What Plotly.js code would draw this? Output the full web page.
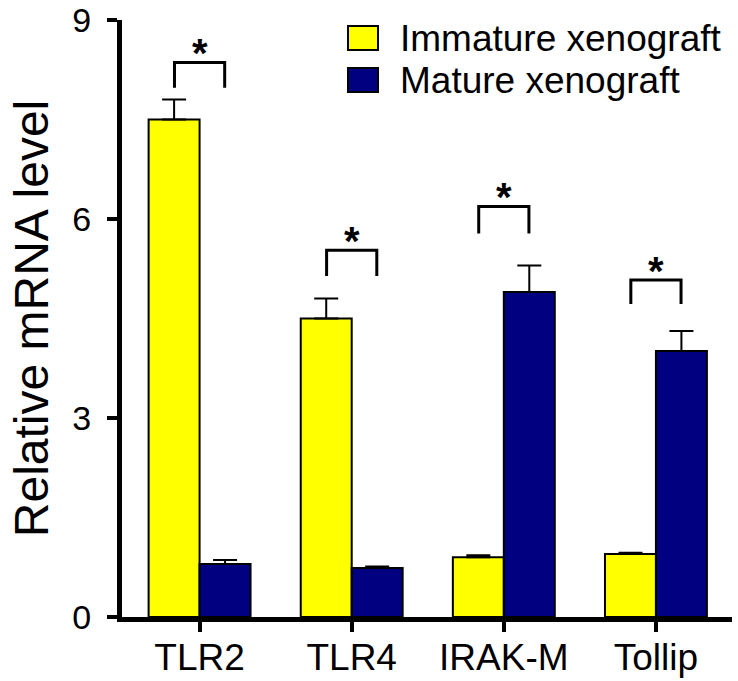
<!DOCTYPE html>
<html>
<head>
<meta charset="utf-8">
<script src="https://cdn.plot.ly/plotly-3.0.1.min.js"></script>
<style>html,body{margin:0;padding:0;background:#fff;}#chart{width:738px;height:681px;}</style>
</head>
<body>
<div id="chart"></div>
<script>
// ---- data ----
const categories = ["TLR2", "TLR4", "IRAK-M", "Tollip"];
const immature = [7.5, 4.5, 0.9, 0.95];
const immatureErr = [0.3, 0.3, 0.03, 0.02];
const mature = [0.8, 0.74, 4.9, 4.01];
const matureErr = [0.06, 0.02, 0.4, 0.3];
const seriesNames = ["Immature xenograft", "Mature xenograft"];
const bracketBottom = [7.98, 5.14, 5.78, 4.72];
const bracketTop = [8.36, 5.53, 6.19, 5.08];
const sigLabel = ["*", "*", "*", "*"];
const yTicks = [0, 3, 6, 9];

const xIdx = categories.map((c, i) => i);
const zeros = categories.map(() => 0);
const FONT = "Arial, 'Liberation Sans', sans-serif";
const yellow = "#FFFF00", navy = "#000080";

const traces = [
  {
    type: "bar", name: seriesNames[0], x: xIdx, y: immature,
    marker: {color: yellow, line: {color: "#000", width: 2}},
    error_y: {type: "data", symmetric: false, array: immatureErr, arrayminus: zeros, color: "#000", thickness: 2, width: 12},
    showlegend: false
  },
  {
    type: "bar", name: seriesNames[1], x: xIdx, y: mature,
    marker: {color: navy, line: {color: "#000", width: 2}},
    error_y: {type: "data", symmetric: false, array: matureErr, arrayminus: zeros, color: "#000", thickness: 2, width: 12},
    showlegend: false
  }
];

const off = 0.165;
const shapes = [];
const annotations = [];
xIdx.forEach((x, i) => {
  shapes.push({
    type: "path", xref: "x", yref: "y",
    path: `M ${x - off},${bracketBottom[i]} L ${x - off},${bracketTop[i]} L ${x + off},${bracketTop[i]} L ${x + off},${bracketBottom[i]}`,
    line: {color: "#000", width: 3}
  });
  annotations.push({
    xref: "x", yref: "y", x: x, y: bracketTop[i], text: "<b>" + sigLabel[i] + "</b>",
    showarrow: false, yanchor: "bottom", yshift: -15,
    font: {family: FONT, size: 40, color: "#000"}
  });
});

// manual legend (paper coords)
const legendColors = [yellow, navy];
const T = 20;
const W = 610, H = 681 - T - 64;
seriesNames.forEach((n, i) => {
  const cy = 38 + i * 42 - T; // pixel center relative to plot top
  shapes.push({
    type: "rect", xref: "paper", yref: "paper",
    x0: (348 - 122) / W, x1: (378 - 122) / W,
    y0: 1 - (cy - 12) / H, y1: 1 - (cy + 12) / H,
    fillcolor: legendColors[i], line: {color: "#000", width: 2}
  });
  annotations.push({
    xref: "paper", yref: "paper", x: (398 - 122) / W, y: 1 - cy / H,
    xanchor: "left", yanchor: "middle", showarrow: false, text: n,
    font: {family: FONT, size: 37, color: "#000"}
  });
});

const layout = {
  width: 738, height: 681,
  margin: {l: 122, r: 6, t: T, b: 64},
  paper_bgcolor: "#fff", plot_bgcolor: "#fff",
  barmode: "group", bargap: 0.33, bargroupgap: 0,
  showlegend: false,
  font: {family: FONT, color: "#000"},
  xaxis: {
    range: [-0.51, 3.5], tickvals: xIdx, ticktext: categories,
    showline: true, linecolor: "#000", linewidth: 5,
    ticks: "outside", ticklen: 10, tickwidth: 4, tickcolor: "#000",
    showgrid: false, zeroline: false,
    tickfont: {family: FONT, size: 37, color: "#000"},
    ticklabelstandoff: -6
  },
  yaxis: {
    range: [0, 9], tickvals: yTicks,
    showline: true, linecolor: "#000", linewidth: 5,
    ticks: "outside", ticklen: 10, tickwidth: 4, tickcolor: "#000",
    showgrid: false, zeroline: false,
    tickfont: {family: FONT, size: 34, color: "#000"},
    ticklabelstandoff: 9, ticklabeloverflow: "allow",
    title: {text: "Relative mRNA level", font: {family: FONT, size: 48, color: "#000"}, standoff: 10}
  },
  shapes: shapes,
  annotations: annotations
};

Plotly.newPlot("chart", traces, layout, {displayModeBar: false, staticPlot: true});
</script>
</body>
</html>
